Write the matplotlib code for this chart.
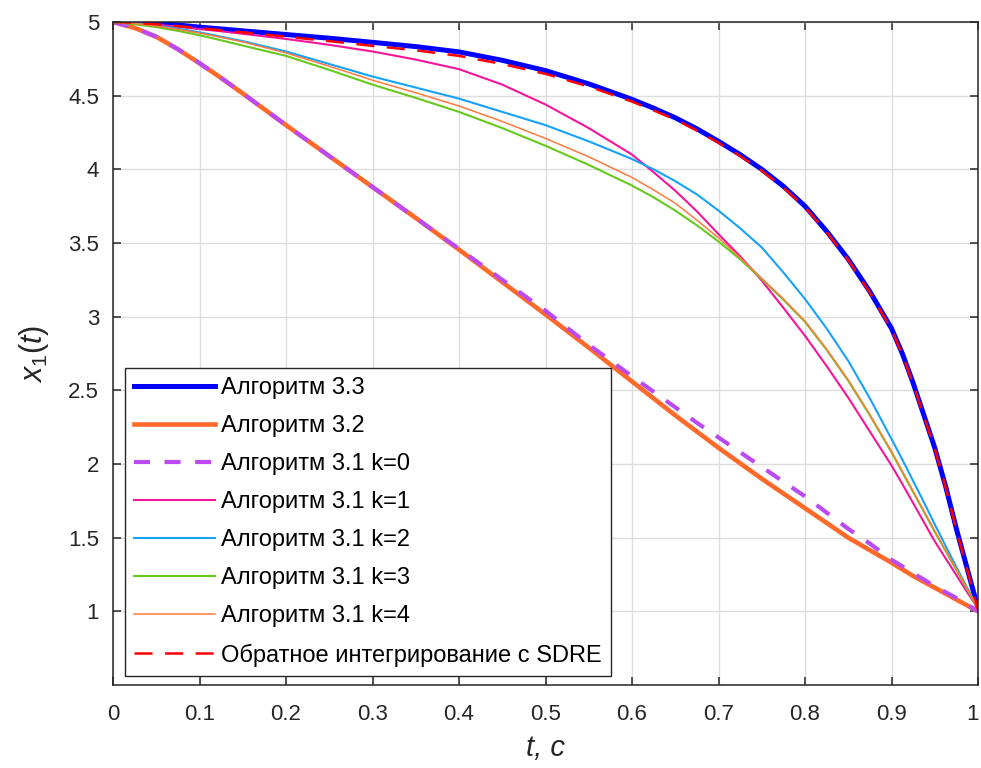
import matplotlib
matplotlib.use("Agg")
import matplotlib.pyplot as plt
from matplotlib.transforms import ScaledTranslation

t = [0, 0.025, 0.05, 0.075, 0.1, 0.125, 0.15, 0.2, 0.25, 0.3, 0.35, 0.4, 0.45, 0.5, 0.55,
     0.6, 0.625, 0.65, 0.675, 0.7, 0.725, 0.75, 0.775, 0.8, 0.825, 0.85, 0.875, 0.9,
     0.9125, 0.925, 0.9375, 0.95, 0.9625, 0.975, 0.9875, 1.0]

alg33 = [5.0, 4.997, 4.99, 4.98, 4.965, 4.953, 4.94, 4.915, 4.89, 4.862, 4.833, 4.797, 4.74, 4.67, 4.58,
         4.475, 4.415, 4.35, 4.275, 4.19, 4.10, 4.00, 3.885, 3.75, 3.58, 3.39, 3.17, 2.92,
         2.75, 2.55, 2.33, 2.11, 1.85, 1.56, 1.29, 1.02]
sdre = [5.0, 4.995, 4.985, 4.972, 4.958, 4.944, 4.93, 4.90, 4.87, 4.838, 4.808, 4.77, 4.715, 4.648, 4.562,
        4.46, 4.40, 4.338, 4.263, 4.18, 4.09, 3.99, 3.875, 3.742, 3.573, 3.383, 3.163, 2.913,
        2.743, 2.543, 2.323, 2.103, 1.843, 1.553, 1.283, 1.01]
alg32 = [5.0, 4.96, 4.90, 4.815, 4.72, 4.62, 4.515, 4.30, 4.09, 3.88, 3.67, 3.455, 3.235, 3.015, 2.79,
         2.56, 2.445, 2.33, 2.22, 2.11, 2.005, 1.90, 1.80, 1.70, 1.60, 1.50, 1.415, 1.33,
         1.285, 1.24, 1.20, 1.16, 1.12, 1.08, 1.04, 1.0]
k0 = [5.0, 4.96, 4.90, 4.815, 4.72, 4.62, 4.515, 4.30, 4.09, 3.88, 3.67, 3.46, 3.25, 3.04, 2.81,
      2.595, 2.49, 2.385, 2.28, 2.18, 2.08, 1.98, 1.88, 1.78, 1.67, 1.56, 1.46, 1.35,
      1.305, 1.26, 1.215, 1.17, 1.13, 1.09, 1.045, 1.0]
k1 = [5.0, 4.993, 4.982, 4.968, 4.952, 4.937, 4.92, 4.885, 4.845, 4.80, 4.745, 4.68, 4.575, 4.44, 4.28,
      4.10, 3.98, 3.855, 3.715, 3.56, 3.41, 3.245, 3.06, 2.87, 2.665, 2.45, 2.22, 1.99,
      1.865, 1.735, 1.605, 1.475, 1.36, 1.245, 1.13, 1.02]
k2 = [5.0, 4.99, 4.975, 4.955, 4.93, 4.90, 4.87, 4.80, 4.715, 4.63, 4.555, 4.48, 4.39, 4.30, 4.19,
      4.07, 4.00, 3.92, 3.83, 3.72, 3.60, 3.47, 3.30, 3.12, 2.92, 2.70, 2.445, 2.17,
      2.03, 1.885, 1.74, 1.59, 1.445, 1.30, 1.16, 1.02]
k3 = [5.0, 4.985, 4.965, 4.94, 4.91, 4.876, 4.84, 4.77, 4.675, 4.575, 4.485, 4.39, 4.28, 4.16, 4.03,
      3.89, 3.81, 3.72, 3.62, 3.51, 3.39, 3.255, 3.115, 2.965, 2.775, 2.565, 2.33, 2.08,
      1.945, 1.81, 1.675, 1.54, 1.41, 1.28, 1.15, 1.02]
k4 = [5.0, 4.99, 4.972, 4.95, 4.925, 4.896, 4.865, 4.79, 4.70, 4.605, 4.52, 4.43, 4.325, 4.21, 4.085,
      3.945, 3.86, 3.77, 3.655, 3.535, 3.40, 3.26, 3.12, 2.97, 2.78, 2.57, 2.335, 2.085,
      1.95, 1.815, 1.68, 1.545, 1.415, 1.285, 1.155, 1.02]

labels = ["Алгоритм 3.3", "Алгоритм 3.2", "Алгоритм 3.1 k=0", "Алгоритм 3.1 k=1",
          "Алгоритм 3.1 k=2", "Алгоритм 3.1 k=3", "Алгоритм 3.1 k=4",
          "Обратное интегрирование с SDRE"]
xticks = [0, 0.1, 0.2, 0.3, 0.4, 0.5, 0.6, 0.7, 0.8, 0.9, 1.0]
xticklabels = ["0", "0.1", "0.2", "0.3", "0.4", "0.5", "0.6", "0.7", "0.8", "0.9", "1"]
yticks = [1, 1.5, 2, 2.5, 3, 3.5, 4, 4.5, 5]
yticklabels = ["1", "1.5", "2", "2.5", "3", "3.5", "4", "4.5", "5"]

plt.rcParams['font.family'] = ['Liberation Sans', 'DejaVu Sans']
plt.rcParams['mathtext.fontset'] = 'custom'
plt.rcParams['mathtext.it'] = 'Liberation Sans:italic'
plt.rcParams['mathtext.rm'] = 'Liberation Sans'
plt.rcParams['lines.scale_dashes'] = False

fig = plt.figure(figsize=(9.81, 7.68), dpi=100)
ax = fig.add_axes([113/981, 1-685/768, 865/981, (685-22)/768])

ax.plot(t, alg33, color='#0000FF', lw=3.6, label=labels[0])
ax.plot(t, alg32, color='#FF6A2B', lw=3.3, label=labels[1])
ax.plot(t, k0, color='#BB4AF5', lw=3.0, dashes=(11.5, 10.5), label=labels[2])
ax.plot(t, k1, color='#F5159B', lw=1.5, label=labels[3])
ax.plot(t, k2, color='#17A2FA', lw=1.5, label=labels[4])
ax.plot(t, k3, color='#66C91C', lw=1.5, label=labels[5])
ax.plot(t, k4, color='#FF7A3D', lw=1.1, label=labels[6])
ax.plot(t, sdre, color='#FF0000', lw=1.8, dashes=(13, 9), label=labels[7])

ax.set_xlim(0, 1)
ax.set_ylim(0.5, 5)
ax.set_xticks(xticks)
ax.set_xticklabels(xticklabels)
ax.set_yticks(yticks)
ax.set_yticklabels(yticklabels)
ax.grid(True, color='#DDDDDD', lw=1.0)
ax.set_axisbelow(True)
for s in ax.spines.values():
    s.set_color('#262626')
    s.set_linewidth(1.1)
ax.tick_params(axis='both', direction='in', length=5.5, width=1.1, colors='#262626',
               labelsize=16, top=True, right=True)
ax.tick_params(axis='x', pad=14)
ax.tick_params(axis='y', pad=10)

last = ax.get_xticklabels()[-1]
last.set_transform(last.get_transform() + ScaledTranslation(-4/72, 0, fig.dpi_scale_trans))

ax.set_xlabel("t, c", fontsize=21, style='italic', color='#262626', labelpad=6)
ax.set_ylabel(r"$\mathit{x_1(t)}$", fontsize=22, color='#262626', labelpad=12)

leg = ax.legend(loc='lower left', bbox_to_anchor=(12/865, 9/663), borderaxespad=0,
                fontsize=17, frameon=True, fancybox=False, framealpha=1,
                edgecolor='#262626', handlelength=3.4, handletextpad=0.25,
                labelspacing=0.68, borderpad=0.4)
leg.get_frame().set_linewidth(1.0)

fig.savefig("out.png", dpi=100)
